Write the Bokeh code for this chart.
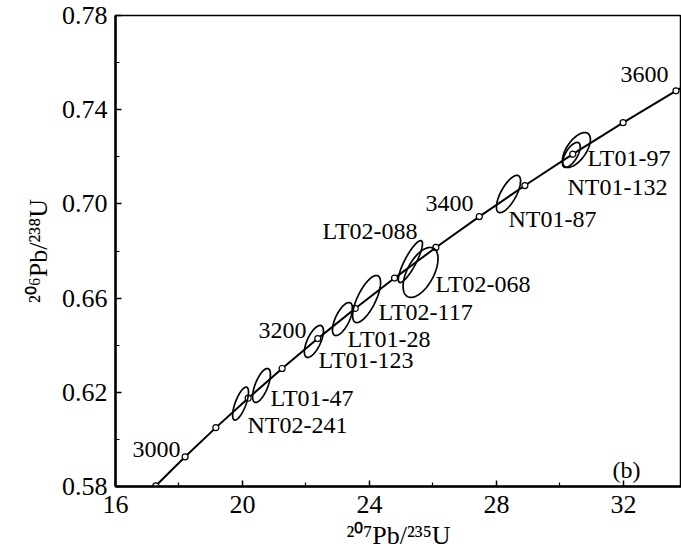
import numpy as np
from bokeh.plotting import figure
from bokeh.models import Range1d, FixedTicker, ColumnDataSource
from bokeh.embed import file_html
from bokeh.resources import INLINE
from bokeh.core.properties import value

# ---- Concordia (ages in Ma and their 207Pb/235U, 206Pb/238U ratios) ----
conc_age = [2950, 3000, 3050, 3100, 3150, 3200, 3250, 3300, 3350, 3400,
            3450, 3500, 3550, 3600, 3650]
conc_x = [17.271, 18.193, 19.162, 20.180, 21.249, 22.372, 23.551, 24.791,
          26.092, 27.460, 28.896, 30.405, 31.991, 33.656, 35.405]
conc_y = [0.5803, 0.5926, 0.6050, 0.6175, 0.6301, 0.6428, 0.6556, 0.6685,
          0.6815, 0.6946, 0.7078, 0.7211, 0.7345, 0.7480, 0.7616]
age_labels = ["3000", "3200", "3400", "3600"]

# ---- Zircon analyses (error ellipses) ----
spots = ["NT02-241", "LT01-47", "LT01-123", "LT01-28", "LT02-117",
         "LT02-088", "LT02-068", "NT01-87", "LT01-97", "NT01-132"]
pb207_u235 = [19.94, 20.60, 22.25, 23.15, 23.91, 25.29, 25.61, 28.38, 30.52, 30.36]
pb207_err = [0.25, 0.28, 0.30, 0.315, 0.44, 0.38, 0.55, 0.38, 0.44, 0.28]
pb206_u238 = [0.6152, 0.6229, 0.6416, 0.6511, 0.6596, 0.6755, 0.6709, 0.7042, 0.7229, 0.7208]
pb206_err = [0.0070, 0.0072, 0.0068, 0.0070, 0.0100, 0.0089, 0.0106, 0.0079, 0.0074, 0.0053]
rho = [0.70, 0.65, 0.65, 0.65, 0.70, 0.85, 0.55, 0.70, 0.60, 0.65]

x_ticks = [16, 20, 24, 28, 32]
y_ticks = [0.58, 0.62, 0.66, 0.70, 0.74, 0.78]

# ---- label placement (layout, data coordinates) ----
spot_label_pos = {
    "NT02-241": (20.157, 0.6063), "LT01-47": (20.882, 0.6174),
    "LT01-123": (22.394, 0.6339), "LT01-28": (23.307, 0.6428),
    "LT02-117": (24.283, 0.6539), "LT02-088": (22.520, 0.6883),
    "LT02-068": (26.079, 0.6658), "NT01-87": (28.378, 0.6934),
    "NT01-132": (30.236, 0.7070), "LT01-97": (30.866, 0.7197),
}
age_label_pos = {"3000": (16.535, 0.5957), "3200": (20.504, 0.6462),
                 "3400": (25.764, 0.7002), "3600": (31.906, 0.7549)}

FONT = "Liberation Serif"

p = figure(width=681, height=552, x_range=Range1d(16, 33.83), y_range=Range1d(0.58, 0.78),
           output_backend="svg", toolbar_location=None,
           min_border_left=115, min_border_right=0, min_border_top=15, min_border_bottom=66)
p.background_fill_color = "white"
p.border_fill_color = "white"
p.grid.visible = False
p.outline_line_color = "black"
p.outline_line_width = 1.5

for ax in (p.xaxis[0], p.yaxis[0]):
    ax.axis_line_width = 2.5
    ax.major_tick_in = 6
    ax.major_tick_out = 0
    ax.minor_tick_in = 4
    ax.minor_tick_out = 0
    ax.major_tick_line_width = 1.5
    ax.minor_tick_line_width = 1.2
    ax.major_label_text_font = FONT
    ax.major_label_text_font_size = "26px"
    ax.major_label_text_color = "black"
    ax.axis_label_text_font = FONT
    ax.axis_label_text_font_size = "26px"
    ax.axis_label_text_font_style = "normal"
    ax.axis_label_text_color = "black"

p.xaxis.ticker = FixedTicker(ticks=x_ticks, minor_ticks=[18, 22, 26, 30])
p.yaxis.ticker = FixedTicker(ticks=y_ticks, minor_ticks=[0.60, 0.64, 0.68, 0.72, 0.76])
p.xaxis.major_label_overrides = {t: str(t) for t in x_ticks}
p.yaxis.major_label_overrides = {t: f"{t:.2f}" for t in y_ticks}
p.xaxis.axis_label = "²⁰⁷Pb/²³⁵U"
p.yaxis.axis_label = "²⁰⁶Pb/²³⁸U"
p.xaxis.major_label_standoff = 9
p.xaxis.axis_label_standoff = 5
p.yaxis.major_label_standoff = 8
p.yaxis.axis_label_standoff = 6

# concordia
p.line(conc_x, conc_y, line_color="black", line_width=2)
p.scatter(conc_x, conc_y, marker="circle", size=6, fill_color="white",
          line_color="black", line_width=1.2)

# error ellipses
th = np.linspace(0, 2 * np.pi, 120)
xs, ys = [], []
for cx, sx, cy, sy, r in zip(pb207_u235, pb207_err, pb206_u238, pb206_err, rho):
    xs.append(list(cx + sx * np.cos(th)))
    ys.append(list(cy + sy * (r * np.cos(th) + np.sqrt(1 - r * r) * np.sin(th))))
p.patches(xs, ys, fill_color=None, line_color="black", line_width=1.7)

# labels
lab_src = ColumnDataSource(dict(
    x=[spot_label_pos[s][0] for s in spots] + [age_label_pos[a][0] for a in age_labels] + [31.654],
    y=[spot_label_pos[s][1] for s in spots] + [age_label_pos[a][1] for a in age_labels] + [0.5872],
    t=spots + age_labels + ["(b)"],
))
p.text(x="x", y="y", text="t", source=lab_src, text_font=value(FONT),
       text_font_size="24px", text_baseline="middle", text_align="left",
       text_color="black")

open("out.html", "w").write(file_html(p, INLINE))
